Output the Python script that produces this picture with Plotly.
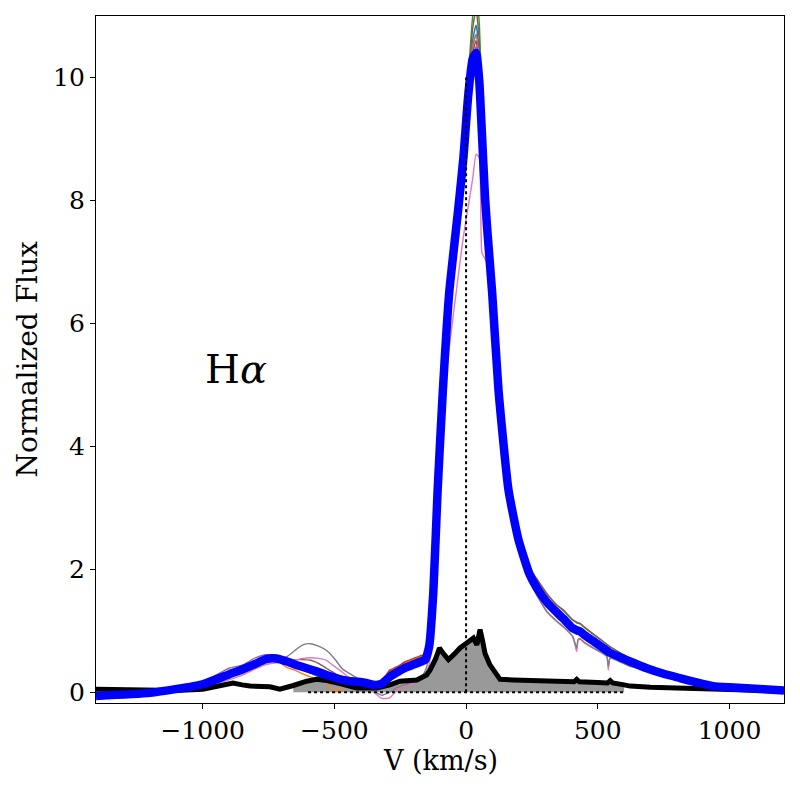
import plotly.graph_objects as go

# ---------------- data ----------------
velocity = [-1405, -1200, -1000, -900, -850,
            -800, -760, -720, -680, -650,
            -620, -590, -560, -530, -500,
            -470, -440, -410, -380, -350,
            -320, -290, -260, -230, -200,
            -170, -155, -140, -124, -108,
            -88, -64, -30, -10, 8,
            25, 38, 50, 60, 72,
            80, 99, 123, 161, 199,
            240, 268, 306, 344, 369,
            405, 420, 425, 433, 450,
            480, 534, 540, 547, 623,
            686, 750, 812, 875, 938,
            1000, 1066, 1130, 1207]

mean_flux = [-0.06, -0.01, 0.13, 0.29, 0.37,
             0.46, 0.54, 0.55, 0.50, 0.45,
             0.41, 0.37, 0.33, 0.28, 0.24,
             0.20, 0.18, 0.17, 0.15, 0.12,
             0.14, 0.25, 0.33, 0.40, 0.45,
             0.50, 0.53, 0.75, 1.66, 3.29,
             4.92, 6.50, 7.85, 8.70, 9.70,
             10.30, 10.40, 9.95, 9.10, 8.05,
             7.55, 6.5, 4.92, 3.29, 2.48,
             1.93, 1.70, 1.47, 1.30, 1.20,
             1.04, 1.01, 1.00, 0.99, 0.93,
             0.84, 0.68, 0.66, 0.64, 0.50,
             0.39, 0.30, 0.23, 0.16, 0.10,
             0.08, 0.065, 0.05, 0.03]

spec_c0 = [-0.05, -0.01, 0.13, 0.30, 0.38,
           0.47, 0.54, 0.55, 0.48, 0.42,
           0.37, 0.31, 0.25, 0.21, 0.17,
           0.15, 0.15, 0.15, 0.14, 0.12,
           0.16, 0.32, 0.38, 0.44, 0.50,
           0.55, 0.57, 0.78, 1.70, 3.35,
           5.0, 6.6, 8.0, 8.85, 9.8,
           10.6, 10.85, 10.4, 9.3, 8.15,
           7.7, 6.55, 4.95, 3.32, 2.5,
           1.96, 1.74, 1.5, 1.33, 1.23,
           1.07, 1.04, 1.03, 1.02, 0.96,
           0.86, 0.70, 0.68, 0.66, 0.51,
           0.40, 0.31, 0.23, 0.16, 0.10,
           0.08, 0.06, 0.05, 0.03]

spec_c1 = [-0.05, -0.01, 0.13, 0.29, 0.37,
           0.46, 0.53, 0.52, 0.40, 0.36,
           0.30, 0.25, 0.21, 0.18, 0.0,
           0.08, 0.12, 0.14, 0.13, 0.12,
           0.17, 0.34, 0.40, 0.48, 0.53,
           0.58, 0.59, 0.80, 1.70, 3.33,
           4.98, 6.58, 7.95, 8.8, 9.75,
           10.5, 10.7, 10.2, 9.2, 8.1,
           7.65, 6.52, 4.94, 3.3, 2.5,
           1.95, 1.73, 1.5, 1.32, 1.22,
           1.06, 1.03, 1.02, 1.01, 0.95,
           0.85, 0.69, 0.67, 0.65, 0.51,
           0.40, 0.30, 0.23, 0.16, 0.10,
           0.08, 0.06, 0.05, 0.03]

spec_c2 = [-0.05, -0.01, 0.13, 0.30, 0.38,
           0.47, 0.54, 0.54, 0.45, 0.40,
           0.37, 0.31, 0.26, 0.21, 0.18,
           0.15, 0.15, 0.15, 0.14, 0.12,
           0.16, 0.33, 0.38, 0.46, 0.52,
           0.57, 0.58, 0.80, 1.75, 3.45,
           5.1, 6.75, 8.15, 9.0, 10.0,
           11.0, 11.4, 10.9, 9.6, 8.3,
           7.8, 6.6, 5.0, 3.38, 2.58,
           2.03, 1.83, 1.6, 1.42, 1.33,
           1.17, 1.13, 1.12, 1.11, 1.05,
           0.95, 0.78, 0.76, 0.74, 0.55,
           0.42, 0.31, 0.24, 0.16, 0.10,
           0.08, 0.06, 0.05, 0.03]

spec_c3 = [-0.05, -0.01, 0.13, 0.29, 0.37,
           0.46, 0.54, 0.55, 0.50, 0.45,
           0.41, 0.37, 0.33, 0.28, 0.24,
           0.20, 0.18, 0.17, 0.15, 0.13,
           0.18, 0.36, 0.42, 0.50, 0.55,
           0.60, 0.62, 0.82, 1.70, 3.32,
           4.96, 6.55, 7.92, 8.75, 9.7,
           10.4, 10.6, 10.15, 9.15, 8.07,
           7.62, 6.52, 4.94, 3.3, 2.5,
           1.95, 1.73, 1.5, 1.33, 1.23,
           1.07, 1.04, 1.03, 1.02, 0.96,
           0.86, 0.70, 0.68, 0.66, 0.51,
           0.40, 0.31, 0.23, 0.16, 0.10,
           0.08, 0.06, 0.05, 0.03]

spec_c4 = [-0.05, 0.0, 0.17, 0.39, 0.44,
           0.56, 0.61, 0.60, 0.55, 0.48,
           0.42, 0.38, 0.33, 0.28, 0.24,
           0.20, 0.18, 0.16, 0.14, 0.11,
           0.13, 0.24, 0.33, 0.40, 0.45,
           0.50, 0.52, 0.72, 1.6, 3.25,
           4.88, 6.45, 7.82, 8.62, 9.65,
           10.3, 10.5, 10.05, 9.1, 8.02,
           7.58, 6.48, 4.9, 3.27, 2.46,
           1.91, 1.68, 1.45, 1.28, 1.18,
           1.02, 0.99, 0.98, 0.97, 0.91,
           0.82, 0.66, 0.64, 0.62, 0.49,
           0.38, 0.29, 0.22, 0.15, 0.10,
           0.08, 0.06, 0.05, 0.03]

spec_c5 = [-0.05, -0.01, 0.13, 0.29, 0.37,
           0.46, 0.54, 0.56, 0.54, 0.53,
           0.53, 0.52, 0.47, 0.39, 0.31,
           0.22, 0.18, 0.17, 0.15, 0.12,
           0.16, 0.32, 0.37, 0.45, 0.50,
           0.56, 0.58, 0.80, 1.72, 3.38,
           5.04, 6.65, 8.05, 8.9, 9.9,
           10.8, 11.1, 10.6, 9.4, 8.2,
           7.7, 6.6, 5.0, 3.38, 2.58,
           2.03, 1.85, 1.61, 1.42, 1.34,
           1.18, 1.14, 1.13, 1.12, 1.06,
           0.96, 0.78, 0.76, 0.74, 0.55,
           0.42, 0.31, 0.24, 0.16, 0.10,
           0.08, 0.06, 0.05, 0.03]

spec_c6 = [-0.06, -0.02, 0.08, 0.20, 0.28,
           0.38, 0.45, 0.48, 0.50, 0.52,
           0.55, 0.56, 0.55, 0.52, 0.42,
           0.33, 0.22, 0.15, 0.08, 0.0,
           -0.10, -0.09, 0.05, 0.10, 0.15,
           0.20, 0.30, 0.45, 1.30, 3.0,
           4.6, 5.6, 6.76, 7.42, 7.9,
           8.35, 8.75, 8.7, 7.15, 7.05,
           6.95, 6.3, 4.8, 3.2, 2.4,
           1.88, 1.58, 1.31, 1.15, 1.06,
           0.90, 0.66, 0.84, 0.86, 0.80,
           0.72, 0.58, 0.36, 0.55, 0.42,
           0.36, 0.28, 0.22, 0.15, 0.10,
           0.08, 0.06, 0.05, 0.03]

spec_c7 = [-0.05, -0.01, 0.13, 0.33, 0.40,
           0.50, 0.55, 0.55, 0.58, 0.68,
           0.77, 0.79, 0.75, 0.68, 0.55,
           0.38, 0.30, 0.22, 0.12, 0.02,
           -0.05, 0.0, 0.08, 0.12, 0.18,
           0.25, 0.35, 0.60, 1.55, 3.2,
           4.85, 6.42, 7.8, 8.62, 9.7,
           10.5, 10.7, 10.2, 9.2, 8.05,
           7.6, 6.42, 4.84, 3.22, 2.42,
           1.87, 1.6, 1.32, 1.16, 1.07,
           0.91, 0.72, 0.86, 0.87, 0.81,
           0.73, 0.59, 0.42, 0.56, 0.42,
           0.36, 0.28, 0.22, 0.15, 0.10,
           0.08, 0.06, 0.05, 0.03]

rms_velocity = [-1405, -1300, -1200, -1100, -1000, -947, -885, -850, -820, -745,
                -707, -656, -605, -567, -529, -479, -415, -339, -289, -251,
                -187, -150, -137, -115, -101, -90, -67, -45, -23, 9,
                28, 41, 53, 62, 72, 90, 104, 129, 180, 243,
                300, 380, 410, 420, 430, 500, 537, 547, 557, 600,
                623, 700, 800, 938, 1000, 1100, 1207]
rms_flux = [0.05, 0.04, 0.03, 0.03, 0.05, 0.09, 0.15, 0.12, 0.10, 0.09,
            0.05, 0.11, 0.18, 0.21, 0.19, 0.14, 0.07, 0.07, 0.12, 0.18,
            0.20, 0.28, 0.36, 0.55, 0.72, 0.65, 0.53, 0.62, 0.72, 0.82,
            0.88, 0.77, 1.02, 0.85, 0.63, 0.45, 0.36, 0.21, 0.20, 0.19,
            0.18, 0.17, 0.17, 0.21, 0.17, 0.16, 0.15, 0.19, 0.15, 0.12,
            0.10, 0.08, 0.07, 0.05, 0.03, 0.02, 0.02]

fill_range = (-660, 600)
x_range = [-1405, 1207]
y_range = [-0.175, 11.0]
x_ticks = [-1000, -500, 0, 500, 1000]
y_ticks = [0, 2, 4, 6, 8, 10]
line_label = "H<i>α</i>"
label_pos = (-1000, 5)
zero_v_top = 10
zero_f_span = (-600, 600)

spectra = [spec_c0, spec_c1, spec_c2, spec_c3, spec_c4, spec_c5, spec_c6, spec_c7]
spectra_colors = ["#1f77b4", "#ff7f0e", "#2ca02c", "#d62728",
                  "#9467bd", "#8c564b", "#e377c2", "#7f7f7f"]

FONT = "DejaVu Serif"

fig = go.Figure()

# gray filled rms region
fx = [v for v in rms_velocity if fill_range[0] <= v <= fill_range[1]]
fy = [f for v, f in zip(rms_velocity, rms_flux) if fill_range[0] <= v <= fill_range[1]]
fig.add_trace(go.Scatter(x=fx, y=fy, mode="lines", fill="tozeroy",
                         fillcolor="#999999", line=dict(color="#999999", width=0),
                         showlegend=False, hoverinfo="skip"))

for s, c in zip(spectra, spectra_colors):
    fig.add_trace(go.Scatter(x=velocity, y=s, mode="lines",
                             line=dict(color=c, width=1.4, shape="spline", smoothing=0.5),
                             showlegend=False))

fig.add_trace(go.Scatter(x=rms_velocity, y=rms_flux, mode="lines",
                         line=dict(color="black", width=5), showlegend=False))

fig.add_trace(go.Scatter(x=velocity, y=mean_flux, mode="lines",
                         line=dict(color="#0000ff", width=8.5, shape="spline", smoothing=0.5),
                         showlegend=False))

# dotted reference lines
fig.add_shape(type="line", x0=0, x1=0, y0=0, y1=zero_v_top, xref="x", yref="y",
              line=dict(color="black", width=2, dash="dot"), layer="above")
fig.add_shape(type="line", x0=zero_f_span[0], x1=zero_f_span[1], y0=0, y1=0,
              xref="x", yref="y",
              line=dict(color="black", width=2, dash="dot"), layer="above")

fig.add_annotation(x=label_pos[0], y=label_pos[1], text=line_label, showarrow=False,
                   xanchor="left", yanchor="bottom", yshift=-9,
                   font=dict(family=FONT, size=40, color="black"))

# axis titles
fig.add_annotation(xref="paper", yref="paper", x=0.5, y=-0.084, text="V (km/s)",
                   showarrow=False, xanchor="center", yanchor="middle",
                   font=dict(family=FONT, size=27, color="black"))
fig.add_annotation(xref="paper", yref="paper", x=-0.099, y=0.5, text="Normalized Flux",
                   showarrow=False, xanchor="center", yanchor="middle", textangle=-90,
                   font=dict(family=FONT, size=28, color="black"))

axis_common = dict(showgrid=False, zeroline=False, showline=True, linecolor="black",
                   linewidth=1.3, mirror=True, ticks="outside", ticklen=5,
                   tickwidth=1.3, tickcolor="black",
                   tickfont=dict(family=FONT, size=25, color="black"))

fig.update_xaxes(range=x_range, tickvals=x_ticks, **axis_common)
fig.update_yaxes(range=y_range, tickvals=y_ticks, **axis_common)

# page body has an 8px margin, so the figure is 792 wide and offset by 8px
fig.update_layout(width=792, height=792, plot_bgcolor="white", paper_bgcolor="white",
                  margin=dict(l=88, r=16, t=8, b=97, autoexpand=False),
                  font=dict(family=FONT))

fig.write_html("out.html")
